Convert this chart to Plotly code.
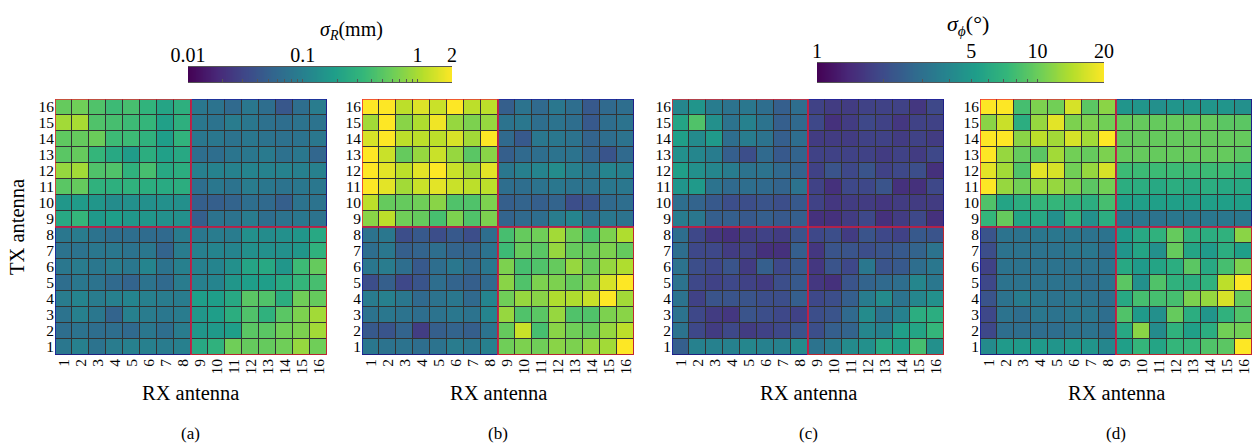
import numpy as np
import plotly.graph_objects as go

# ---------------- data ----------------
TX = list(range(16, 0, -1))   # row order (top -> bottom)
RX = list(range(1, 17))       # column order (left -> right)

# sigma_R in mm, panel (a)
sigma_R_a = [
    [0.56, 0.62, 0.45, 0.37, 0.41, 0.31, 0.22, 0.28, 0.083, 0.075, 0.061, 0.083, 0.067, 0.042, 0.067, 0.092],
    [0.95, 1.00, 0.45, 0.41, 0.37, 0.33, 0.20, 0.28, 0.083, 0.075, 0.092, 0.083, 0.071, 0.067, 0.075, 0.075],
    [0.53, 0.56, 0.59, 0.37, 0.37, 0.30, 0.19, 0.31, 0.083, 0.083, 0.075, 0.083, 0.075, 0.071, 0.075, 0.083],
    [0.50, 0.56, 0.33, 0.24, 0.18, 0.27, 0.20, 0.24, 0.067, 0.067, 0.079, 0.083, 0.088, 0.071, 0.083, 0.057],
    [0.86, 0.95, 0.45, 0.45, 0.30, 0.41, 0.24, 0.27, 0.100, 0.105, 0.105, 0.110, 0.105, 0.105, 0.100, 0.100],
    [0.50, 0.56, 0.30, 0.28, 0.30, 0.27, 0.25, 0.27, 0.067, 0.083, 0.075, 0.092, 0.083, 0.075, 0.083, 0.083],
    [0.165, 0.18, 0.16, 0.13, 0.14, 0.14, 0.14, 0.14, 0.049, 0.049, 0.054, 0.067, 0.061, 0.049, 0.075, 0.075],
    [0.24, 0.33, 0.17, 0.19, 0.165, 0.16, 0.14, 0.14, 0.049, 0.075, 0.075, 0.092, 0.067, 0.075, 0.083, 0.075],
    [0.083, 0.092, 0.075, 0.067, 0.067, 0.064, 0.061, 0.092, 0.083, 0.092, 0.092, 0.14, 0.13, 0.14, 0.16, 0.24],
    [0.075, 0.075, 0.083, 0.083, 0.075, 0.083, 0.054, 0.092, 0.10, 0.11, 0.11, 0.14, 0.14, 0.14, 0.16, 0.30],
    [0.083, 0.092, 0.083, 0.092, 0.083, 0.11, 0.075, 0.10, 0.10, 0.11, 0.14, 0.22, 0.24, 0.16, 0.37, 0.56],
    [0.067, 0.083, 0.075, 0.061, 0.054, 0.075, 0.061, 0.092, 0.10, 0.11, 0.16, 0.19, 0.19, 0.24, 0.33, 0.41],
    [0.092, 0.11, 0.092, 0.10, 0.11, 0.10, 0.092, 0.092, 0.19, 0.19, 0.24, 0.50, 0.45, 0.27, 0.62, 0.56],
    [0.075, 0.10, 0.083, 0.054, 0.10, 0.092, 0.083, 0.092, 0.16, 0.19, 0.27, 0.45, 0.30, 0.50, 0.69, 0.95],
    [0.067, 0.075, 0.067, 0.067, 0.061, 0.083, 0.067, 0.092, 0.16, 0.17, 0.19, 0.50, 0.50, 0.62, 0.69, 0.95],
    [0.083, 0.10, 0.075, 0.092, 0.10, 0.10, 0.092, 0.10, 0.24, 0.30, 0.62, 0.56, 0.56, 0.62, 0.86, 0.62],
]

# sigma_R in mm, panel (b)
sigma_R_b = [
    [2.0, 2.0, 1.18, 1.54, 1.31, 2.0, 1.18, 1.18, 0.049, 0.075, 0.061, 0.083, 0.067, 0.044, 0.061, 0.067],
    [0.95, 2.0, 0.77, 1.06, 1.80, 0.86, 0.69, 0.86, 0.075, 0.083, 0.067, 0.075, 0.067, 0.044, 0.067, 0.075],
    [1.46, 2.0, 1.18, 1.18, 1.18, 1.46, 0.95, 2.0, 0.061, 0.044, 0.083, 0.083, 0.075, 0.054, 0.067, 0.075],
    [2.0, 1.31, 0.56, 0.86, 1.31, 0.86, 0.50, 0.77, 0.049, 0.061, 0.067, 0.075, 0.075, 0.054, 0.040, 0.061],
    [2.0, 1.62, 1.18, 1.62, 2.0, 1.31, 0.95, 1.62, 0.083, 0.10, 0.11, 0.13, 0.10, 0.083, 0.11, 0.10],
    [2.0, 1.62, 0.95, 1.31, 1.62, 1.31, 1.18, 1.18, 0.067, 0.067, 0.075, 0.083, 0.075, 0.075, 0.083, 0.083],
    [1.18, 0.56, 0.56, 0.62, 0.77, 0.45, 0.45, 0.69, 0.049, 0.054, 0.049, 0.054, 0.036, 0.040, 0.061, 0.067],
    [0.77, 1.18, 0.62, 0.56, 0.41, 0.69, 0.45, 0.69, 0.054, 0.061, 0.067, 0.092, 0.11, 0.067, 0.083, 0.075],
    [0.075, 0.083, 0.036, 0.044, 0.036, 0.044, 0.036, 0.067, 0.41, 0.56, 0.62, 0.95, 0.62, 0.41, 0.69, 1.06],
    [0.067, 0.083, 0.049, 0.054, 0.067, 0.054, 0.054, 0.075, 0.37, 0.56, 0.50, 0.86, 0.56, 0.56, 0.69, 0.56],
    [0.083, 0.092, 0.067, 0.044, 0.067, 0.083, 0.061, 0.083, 0.69, 0.41, 0.45, 0.56, 0.86, 0.56, 0.86, 1.06],
    [0.036, 0.049, 0.032, 0.040, 0.067, 0.054, 0.049, 0.061, 0.77, 0.45, 0.69, 0.69, 0.56, 0.69, 1.46, 2.0],
    [0.092, 0.10, 0.083, 0.061, 0.075, 0.083, 0.061, 0.11, 0.62, 0.86, 0.77, 1.06, 1.06, 1.31, 2.0, 0.95],
    [0.075, 0.083, 0.075, 0.067, 0.075, 0.083, 0.075, 0.11, 0.86, 0.45, 0.50, 0.86, 0.45, 0.45, 0.69, 0.77],
    [0.044, 0.040, 0.054, 0.026, 0.049, 0.054, 0.049, 0.075, 0.56, 1.31, 0.41, 0.77, 0.62, 0.56, 0.86, 1.18],
    [0.083, 0.075, 0.075, 0.067, 0.075, 0.092, 0.083, 0.10, 0.62, 0.69, 0.62, 0.77, 0.69, 0.86, 0.95, 2.0],
]

# sigma_phi in degrees, panel (c)
sigma_phi_c = [
    [3.97, 4.75, 3.52, 3.12, 3.31, 2.94, 2.46, 2.94, 1.82, 1.71, 1.71, 1.82, 1.82, 1.82, 1.62, 1.93],
    [5.69, 8.65, 4.47, 3.12, 3.74, 3.12, 2.46, 2.77, 1.93, 1.52, 1.71, 1.93, 1.82, 1.62, 1.82, 1.82],
    [5.35, 4.21, 5.04, 2.94, 3.52, 3.12, 2.46, 2.94, 1.71, 1.71, 1.71, 1.82, 1.82, 1.71, 1.82, 1.71],
    [4.47, 3.97, 3.52, 2.46, 2.05, 2.77, 2.31, 2.61, 1.82, 1.82, 1.82, 1.82, 1.71, 1.82, 1.71, 1.93],
    [5.35, 4.47, 3.97, 3.52, 3.12, 3.12, 2.77, 2.61, 1.82, 2.18, 1.93, 2.18, 1.82, 1.93, 2.05, 1.52],
    [4.75, 5.04, 3.12, 2.77, 2.94, 2.77, 2.61, 3.12, 1.82, 1.52, 1.93, 1.93, 2.18, 1.52, 1.52, 1.93],
    [2.94, 2.61, 2.31, 2.05, 2.05, 2.18, 2.05, 2.31, 1.82, 1.62, 1.71, 1.71, 1.62, 1.71, 1.71, 1.71],
    [3.52, 3.31, 2.46, 2.46, 2.31, 2.46, 2.31, 2.46, 1.52, 1.52, 1.71, 1.93, 1.52, 1.71, 1.93, 1.52],
    [2.94, 1.93, 1.62, 1.52, 1.71, 1.82, 1.71, 2.18, 1.93, 2.05, 1.71, 2.18, 1.93, 1.82, 2.31, 2.18],
    [2.94, 1.93, 1.93, 1.71, 1.82, 1.52, 1.52, 2.46, 1.62, 2.18, 2.18, 2.05, 2.18, 2.31, 2.61, 3.12],
    [3.12, 2.05, 1.93, 2.18, 1.71, 2.46, 1.93, 2.31, 1.62, 2.18, 1.93, 3.31, 2.18, 2.31, 2.94, 3.31],
    [3.12, 1.93, 1.82, 1.93, 1.82, 1.71, 2.05, 2.31, 1.62, 1.52, 2.18, 2.61, 2.77, 2.94, 3.97, 3.31],
    [3.12, 1.82, 2.18, 2.18, 2.18, 2.05, 2.05, 2.46, 1.93, 2.05, 2.46, 3.52, 4.21, 3.12, 3.97, 4.47],
    [3.12, 1.93, 1.71, 1.62, 2.18, 2.05, 1.93, 1.82, 2.05, 2.18, 2.77, 4.21, 3.12, 3.74, 6.41, 6.41],
    [3.12, 1.93, 1.71, 1.93, 1.71, 1.82, 1.93, 2.18, 2.05, 2.46, 2.61, 3.97, 3.74, 5.35, 5.69, 7.22],
    [2.46, 3.74, 3.74, 3.74, 3.97, 3.74, 3.74, 4.21, 3.12, 3.52, 4.21, 4.47, 6.04, 5.35, 8.14, 4.47],
]

# sigma_phi in degrees, panel (d)
sigma_phi_d = [
    [20.0, 20.0, 8.14, 11.0, 10.4, 16.7, 9.18, 11.7, 4.75, 4.75, 4.47, 4.75, 4.75, 4.75, 4.75, 4.47],
    [11.7, 15.7, 6.41, 12.4, 17.7, 11.0, 11.0, 10.4, 9.75, 9.75, 9.75, 9.75, 9.75, 9.75, 9.18, 9.18],
    [20.0, 20.0, 11.7, 14.8, 13.1, 16.7, 13.1, 20.0, 9.75, 9.75, 9.75, 9.75, 9.75, 9.75, 9.75, 9.75],
    [20.0, 12.4, 9.75, 9.18, 13.1, 10.4, 9.75, 11.0, 9.75, 9.75, 9.75, 9.75, 9.75, 9.75, 9.75, 9.18],
    [17.7, 13.1, 8.65, 17.7, 16.7, 10.4, 12.4, 16.7, 7.67, 7.67, 7.67, 7.67, 7.67, 7.67, 7.67, 7.22],
    [20.0, 12.4, 10.4, 12.4, 12.4, 11.0, 9.18, 10.4, 6.41, 6.41, 6.04, 6.41, 6.04, 6.41, 6.04, 6.04],
    [8.65, 5.69, 6.41, 7.22, 7.22, 6.80, 6.41, 8.14, 5.35, 5.35, 5.35, 5.35, 5.35, 5.35, 5.35, 5.35],
    [7.22, 9.75, 5.69, 6.04, 4.47, 6.80, 4.47, 6.41, 3.31, 3.31, 3.12, 3.31, 3.31, 3.31, 3.31, 3.31],
    [2.18, 3.12, 3.12, 3.31, 3.31, 3.31, 3.12, 3.12, 5.04, 6.04, 6.80, 9.75, 6.80, 6.41, 6.80, 11.7],
    [2.05, 3.12, 3.12, 3.12, 3.12, 3.31, 3.31, 2.94, 4.75, 5.69, 4.47, 9.75, 5.69, 5.04, 6.41, 5.35],
    [1.82, 3.12, 3.12, 3.12, 3.12, 3.12, 3.12, 3.12, 6.04, 5.04, 5.69, 6.41, 9.18, 6.04, 8.14, 11.0],
    [1.93, 3.12, 3.12, 3.12, 3.12, 3.12, 2.94, 3.12, 9.18, 4.47, 8.65, 6.80, 6.41, 6.80, 14.8, 20.0],
    [2.18, 3.12, 3.52, 3.31, 3.12, 3.31, 3.12, 2.94, 6.04, 8.14, 8.14, 8.14, 11.0, 12.4, 16.7, 9.75],
    [1.93, 3.12, 2.94, 3.31, 3.12, 3.31, 3.31, 2.94, 8.65, 5.04, 4.47, 9.75, 6.41, 4.75, 6.80, 8.65],
    [1.93, 2.94, 2.94, 2.94, 2.94, 3.12, 3.12, 2.94, 6.04, 11.7, 4.21, 6.80, 5.35, 6.41, 10.4, 10.4],
    [4.21, 5.04, 5.04, 5.04, 4.75, 5.04, 4.75, 3.97, 5.35, 7.22, 5.69, 7.22, 7.22, 8.65, 9.18, 20.0],
]

R_limits = [0.01, 2.0]
R_tickvals = [0.01, 0.1, 1, 2]
R_ticktext = ["0.01", "0.1", "1", "2"]
R_minor = [0.02, 0.03, 0.04, 0.05, 0.06, 0.07, 0.08, 0.09, 0.1, 0.2, 0.3, 0.4, 0.5, 0.6, 0.7, 0.8, 0.9, 1.0]

PHI_limits = [1.0, 20.0]
PHI_tickvals = [1, 5, 10, 20]
PHI_ticktext = ["1", "5", "10", "20"]
PHI_minor = [2, 3, 4, 5, 6, 7, 8, 9, 10]

panel_labels = ["(a)", "(b)", "(c)", "(d)"]

# ---------------- figure ----------------
W, H = 1258, 443
FONT = "Liberation Serif, Times New Roman, DejaVu Serif, serif"


def fx(px):
    return px / W


def fy(py):
    return 1 - py / H


fig = go.Figure()
layout = dict(
    width=W, height=H, autosize=False,
    margin=dict(l=0, r=0, t=0, b=0, pad=0, autoexpand=False),
    paper_bgcolor="white",
    plot_bgcolor="#333333",
    showlegend=False,
    font=dict(family=FONT, color="black"),
)

panel_px = [(55, 327), (362, 634), (672, 944), (980, 1252)]
panel_y = (99, 355)
datasets = [(sigma_R_a, "R"), (sigma_R_b, "R"), (sigma_phi_c, "phi"), (sigma_phi_d, "phi")]
limits = {"R": R_limits, "phi": PHI_limits}
units = {"R": "mm", "phi": "°"}

N = len(RX)
half = N // 2
edges = [0.5, half + 0.5, N + 0.5]
RED = "rgba(235,35,50,0.95)"
BLUE = "rgba(25,25,160,0.95)"
quad_colors = {(0, 1): RED, (1, 0): RED, (0, 0): BLUE, (1, 1): BLUE}

shapes = []
annotations = []
for i, ((data, kind), (x0, x1)) in enumerate(zip(datasets, panel_px)):
    k = i + 1
    xa = "x" if k == 1 else f"x{k}"
    ya = "y" if k == 1 else f"y{k}"
    vals = np.array(data, dtype=float)
    lo, hi = limits[kind]
    fig.add_trace(go.Heatmap(
        z=np.log10(vals), x=RX, y=TX,
        customdata=vals,
        zmin=np.log10(lo), zmax=np.log10(hi),
        colorscale="Viridis", showscale=False,
        xgap=1, ygap=1,
        xaxis=xa, yaxis=ya,
        hovertemplate="RX %{x}<br>TX %{y}<br>%{customdata}" + units[kind] + "<extra></extra>",
    ))
    axx = dict(
        domain=[fx(x0), fx(x1)], anchor=ya, range=[0.5, N + 0.5], automargin=False,
        tickmode="array", tickvals=RX, ticktext=[str(v) for v in RX],
        tickangle=-90, tickfont=dict(size=15.5, family=FONT),
        showgrid=False, zeroline=False, ticks="", showline=False, fixedrange=True,
    )
    axy = dict(
        domain=[fy(panel_y[1]), fy(panel_y[0])], anchor=xa, range=[0.5, N + 0.5], automargin=False,
        tickmode="array", tickvals=RX, ticktext=[str(v) for v in RX],
        tickfont=dict(size=15.5, family=FONT),
        showgrid=False, zeroline=False, ticks="", showline=False, fixedrange=True,
    )
    layout["xaxis" if k == 1 else f"xaxis{k}"] = axx
    layout["yaxis" if k == 1 else f"yaxis{k}"] = axy

    # quadrant outlines (blue first, red on top)
    for (qx, qy) in [(0, 0), (1, 1), (0, 1), (1, 0)]:
        shapes.append(dict(
            type="rect", xref=xa, yref=ya,
            x0=edges[qx], x1=edges[qx + 1], y0=edges[qy], y1=edges[qy + 1],
            line=dict(color=quad_colors[(qx, qy)], width=1.6), fillcolor="rgba(0,0,0,0)",
        ))

    cx = fx((x0 + x1) / 2)
    annotations.append(dict(text="RX antenna", x=cx, y=fy(393), xref="paper", yref="paper",
                            showarrow=False, xanchor="center", yanchor="middle",
                            font=dict(size=20.5, family=FONT)))
    annotations.append(dict(text=panel_labels[i], x=cx, y=fy(433), xref="paper", yref="paper",
                            showarrow=False, xanchor="center", yanchor="middle",
                            font=dict(size=17, family=FONT)))

annotations.append(dict(text="TX antenna", x=fx(17), y=fy(227), xref="paper", yref="paper",
                        showarrow=False, xanchor="center", yanchor="middle", textangle=-90,
                        font=dict(size=20.5, family=FONT)))

# ---------------- colour bars ----------------
bars = [
    dict(kind="R", px=(188, 452), py=(67, 82), ticks=R_tickvals, text=R_ticktext, minor=R_minor,
         title="<i>σ</i><sub><i>R</i></sub>(mm)", tx=351, ty=31, tsize=20, ax=5),
    dict(kind="phi", px=(817, 1104), py=(63, 82), ticks=PHI_tickvals, text=PHI_ticktext, minor=PHI_minor,
         title="<i>σ</i><sub><i>ϕ</i></sub>(°)", tx=968, ty=25, tsize=22, ax=7),
]
for b in bars:
    lo, hi = limits[b["kind"]]
    llo, lhi = np.log10(lo), np.log10(hi)
    grad = np.linspace(llo, lhi, 300)
    a = b["ax"]
    xa, ya, xa2 = f"x{a}", f"y{a}", f"x{a + 1}"
    fig.add_trace(go.Heatmap(
        z=[grad], x=grad, y=[0], zmin=llo, zmax=lhi, colorscale="Viridis",
        showscale=False, xaxis=xa, yaxis=ya, hoverinfo="skip",
    ))
    fig.add_trace(go.Scatter(
        x=[llo, lhi], y=[0, 0], mode="markers", marker=dict(opacity=0),
        xaxis=xa2, yaxis=ya, hoverinfo="skip",
    ))
    dom_x = [fx(b["px"][0]), fx(b["px"][1])]
    layout[f"xaxis{a}"] = dict(
        domain=dom_x, anchor=ya, range=[llo, lhi], side="bottom", automargin=False,
        tickmode="array", tickvals=list(np.log10(b["minor"])), showticklabels=False,
        ticks="inside", ticklen=3, tickwidth=1, tickcolor="#555",
        showgrid=False, zeroline=False, showline=True, linecolor="#555", linewidth=1,
        mirror=True, fixedrange=True,
    )
    layout[f"xaxis{a + 1}"] = dict(
        overlaying=xa, anchor=ya, range=[llo, lhi], side="top", automargin=False,
        tickmode="array", tickvals=list(np.log10(b["ticks"])), ticktext=b["text"],
        ticks="", tickfont=dict(size=20, family=FONT),
        showgrid=False, zeroline=False, showline=False, fixedrange=True,
    )
    layout[f"yaxis{a}"] = dict(
        domain=[fy(b["py"][1]), fy(b["py"][0])], anchor=xa, range=[-0.5, 0.5], automargin=False,
        showticklabels=False, ticks="", showgrid=False, zeroline=False, fixedrange=True,
    )
    annotations.append(dict(text=b["title"], x=fx(b["tx"]), y=fy(b["ty"]), xref="paper", yref="paper",
                            showarrow=False, xanchor="center", yanchor="middle",
                            font=dict(size=b["tsize"], family=FONT)))

layout["shapes"] = shapes
layout["annotations"] = annotations
fig.update_layout(**layout)

fig.write_html("out.html", post_script="document.body.style.margin='0';",
               config={"displayModeBar": False, "responsive": False})
